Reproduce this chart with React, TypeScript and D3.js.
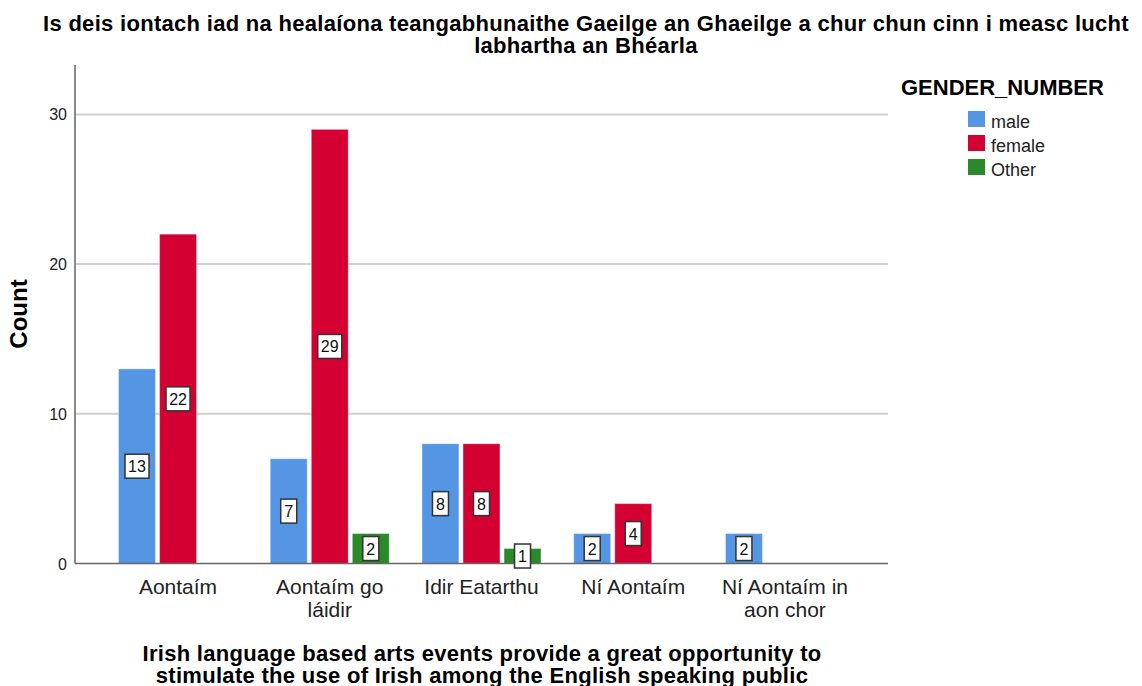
import React from "react";
import * as d3 from "d3";

const categories = [
  "Aontaím",
  "Aontaím go láidir",
  "Idir Eatarthu",
  "Ní Aontaím",
  "Ní Aontaím in aon chor",
];
const categoryLines = [
  ["Aontaím"],
  ["Aontaím go", "láidir"],
  ["Idir Eatarthu"],
  ["Ní Aontaím"],
  ["Ní Aontaím in", "aon chor"],
];
const series = ["male", "female", "Other"];
const maleValues = [13, 7, 8, 2, 2];
const femaleValues = [22, 29, 8, 4, 0];
const otherValues = [0, 2, 1, 0, 0];
const seriesColors = ["#5596e4", "#d50032", "#2a8a2a"];
const yTicks = [0, 10, 20, 30];
const titleLines = [
  "Is deis iontach iad na healaíona teangabhunaithe Gaeilge an Ghaeilge a chur chun cinn i measc  lucht",
  "labhartha an Bhéarla",
];
const xTitleLines = [
  "Irish language based arts events provide a great opportunity to",
  "stimulate the use of Irish among the English speaking public",
];
const yTitle = "Count";
const legendTitle = "GENDER_NUMBER";

const W = 1142;
const H = 686;
const left = 75;
const right = 888;
const top = 65;
const bottom = 563.5;

export default function App() {
  const allValues = [maleValues, femaleValues, otherValues];
  const y = d3.scaleLinear().domain([0, 33.3]).range([bottom, top]);
  const x = d3.scalePoint<string>().domain(categories).range([left, right]).padding(0.679);
  const inner = d3.scaleBand<string>().domain(series).range([-59.5, 59.5]).paddingInner(0.1);
  const font = "'Liberation Sans', Arial, sans-serif";

  return (
    <svg width={W} height={H} style={{ position: "absolute", left: 0, top: 0, background: "#fff" }} fontFamily={font}>
      <rect width={W} height={H} fill="#fff" />
      {titleLines.map((t, i) => (
        <text key={i} x={586} y={31 + i * 22} textAnchor="middle" fontSize={22} fontWeight="bold" letterSpacing={0.3} fill="#000">
          {t}
        </text>
      ))}
      {yTicks.filter((t) => t > 0).map((t) => (
        <line key={t} x1={left} x2={right} y1={y(t)} y2={y(t)} stroke="#cfcfcf" strokeWidth={2} />
      ))}
      {yTicks.map((t) => (
        <text key={t} x={67} y={y(t) + 6} textAnchor="end" fontSize={16} fill="#222">
          {t}
        </text>
      ))}
      <line x1={left} x2={left} y1={top} y2={bottom} stroke="#888" strokeWidth={2} />
      {categories.map((c, ci) =>
        series.map((s, si) => {
          const v = allValues[si][ci];
          if (!v) return null;
          const bx = (x(c) as number) + (inner(s) as number);
          const by = y(v);
          return (
            <rect key={c + s} x={bx} y={by} width={inner.bandwidth()} height={bottom - by}
              fill={seriesColors[si]} stroke="#ffffff" strokeOpacity={0.35} strokeWidth={1} />
          );
        })
      )}
      <line x1={left} x2={right} y1={bottom} y2={bottom} stroke="#666" strokeWidth={1.5} />
      {categories.map((c, ci) =>
        series.map((s, si) => {
          const v = allValues[si][ci];
          if (!v) return null;
          const cx = (x(c) as number) + (inner(s) as number) + inner.bandwidth() / 2;
          const cy = y(v / 2);
          const label = String(v);
          const bw = label.length > 1 ? 24 : 16;
          const bh = 24;
          return (
            <g key={"l" + c + s}>
              <rect x={cx - bw / 2} y={cy - bh / 2} width={bw} height={bh} fill="#fff" stroke="#333" strokeWidth={1.5} />
              <text x={cx} y={cy + 6} textAnchor="middle" fontSize={16} fill="#111">
                {label}
              </text>
            </g>
          );
        })
      )}
      {categories.map((c, ci) =>
        categoryLines[ci].map((ln, li) => (
          <text key={c + li} x={x(c) as number} y={594 + li * 23} textAnchor="middle" fontSize={21} fill="#222">
            {ln}
          </text>
        ))
      )}
      {xTitleLines.map((t, i) => (
        <text key={i} x={482} y={661 + i * 22} textAnchor="middle" fontSize={22} fontWeight="bold" letterSpacing={0.3} fill="#000">
          {t}
        </text>
      ))}
      <text transform={`translate(27,${314}) rotate(-90)`} textAnchor="middle" fontSize={24} fontWeight="bold" fill="#000">
        {yTitle}
      </text>
      <text x={901} y={95} fontSize={22} fontWeight="bold" fill="#000">
        {legendTitle}
      </text>
      {series.map((s, si) => (
        <g key={s}>
          <rect x={968} y={111 + si * 24} width={17} height={16} fill={seriesColors[si]} />
          <text x={991} y={128 + si * 24} fontSize={18} fill="#222">
            {s}
          </text>
        </g>
      ))}
    </svg>
  );
}
